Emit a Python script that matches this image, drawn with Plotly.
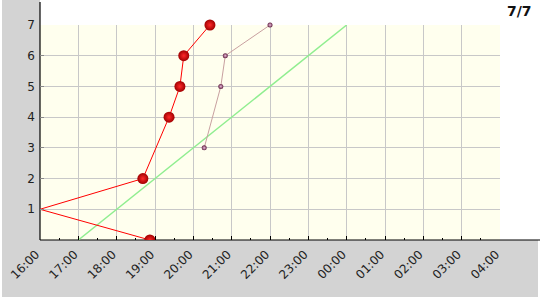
import plotly.graph_objects as go

# Data
red_times = ["2024-01-01 18:52", "2024-01-01 16:00", "2024-01-01 18:41", "2024-01-01 19:22",
             "2024-01-01 19:39", "2024-01-01 19:45", "2024-01-01 20:26"]
red_counts = [0, 1, 2, 4, 5, 6, 7]
red_marked = [True, False, True, True, True, True, True]

rose_times = ["2024-01-01 20:17", "2024-01-01 20:43", "2024-01-01 20:50", "2024-01-01 22:00"]
rose_counts = [3, 5, 6, 7]

green_times = ["2024-01-01 17:00", "2024-01-02 00:00"]
green_counts = [0, 7]

x_range = ["2024-01-01 16:00", "2024-01-02 04:00"]
y_ticks = [1, 2, 3, 4, 5, 6, 7]
title_text = "7/7"

W, H = 540, 300
L, R, T, B = 40, 40, 25, 60
pw, ph = W - L - R, H - T - B

def px(x):
    return (x - L) / pw

def py(y):
    return (H - B - y) / ph

fig = go.Figure()

fig.add_trace(go.Scatter(
    x=green_times, y=green_counts, mode="lines",
    line=dict(color="#90ee90", width=1.5), hoverinfo="skip", showlegend=False))

fig.add_trace(go.Scatter(
    x=rose_times, y=rose_counts, mode="lines+markers", cliponaxis=False,
    line=dict(color="#c8a0a0", width=1),
    marker=dict(size=5, color="#602040", line=dict(width=0),
                gradient=dict(type="radial", color="#f0c0e0")),
    showlegend=False))

fig.add_trace(go.Scatter(
    x=red_times, y=red_counts, mode="lines",
    line=dict(color="#ff0000", width=1), hoverinfo="skip",
    showlegend=False))

# markers: the one sitting on the x axis is clipped by the plot area, others are not
for clip in (True, False):
    xs = [t for t, c, m in zip(red_times, red_counts, red_marked) if m and ((c == 0) == clip)]
    ys = [c for t, c, m in zip(red_times, red_counts, red_marked) if m and ((c == 0) == clip)]
    fig.add_trace(go.Scatter(
        x=xs, y=ys, mode="markers", cliponaxis=clip,
        marker=dict(size=11, color="#a00000", line=dict(width=0),
                    gradient=dict(type="radial", color="#ff2a2a")),
        showlegend=False))

shapes = [
    dict(type="rect", xref="paper", yref="paper", x0=px(2), x1=px(40), y0=py(240), y1=py(0),
         fillcolor="#d3d3d3", line=dict(width=0), layer="below"),
    dict(type="rect", xref="paper", yref="paper", x0=px(2), x1=px(538), y0=py(297), y1=py(240),
         fillcolor="#d3d3d3", line=dict(width=0), layer="below"),
    dict(type="line", xref="paper", yref="paper", x0=0, x1=0, y0=0, y1=py(2),
         line=dict(color="black", width=1.2), layer="below"),
    dict(type="line", xref="paper", yref="paper", x0=0, x1=px(540), y0=0, y1=0,
         line=dict(color="black", width=1.2), layer="below"),
]

fig.update_layout(
    width=W, height=H,
    margin=dict(l=L, r=R, t=T, b=B, autoexpand=False),
    paper_bgcolor="white",
    plot_bgcolor="#ffffee",
    font=dict(family="DejaVu Sans", size=12, color="#222222"),
    shapes=shapes,
    annotations=[dict(text=title_text, xref="paper", yref="paper", x=px(534), y=py(11),
                      xanchor="right", yanchor="middle", showarrow=False,
                      font=dict(family="DejaVu Sans", size=14, color="#111111", weight="bold"))],
    xaxis=dict(type="date", range=x_range, dtick=3600000, tickformat="%H:%M",
               tickangle=-45, ticks="inside", ticklen=4, tickcolor="black",
               ticklabelstandoff=4, ticklabelshift=-4, automargin=False,
               minor=dict(dtick=1800000, ticks="inside", ticklen=2, tickcolor="black", showgrid=False),
               showgrid=True, gridcolor="#c8c8c8", gridwidth=1,
               showline=False, zeroline=False, fixedrange=True),
    yaxis=dict(range=[0, 7], tickvals=y_ticks, ticks="inside", ticklen=4, tickcolor="#888888",
               ticklabelstandoff=4, automargin=False,
               showgrid=True, gridcolor="#c8c8c8", gridwidth=1,
               showline=False, zeroline=False, fixedrange=True),
)

fig.write_html("out.html")
